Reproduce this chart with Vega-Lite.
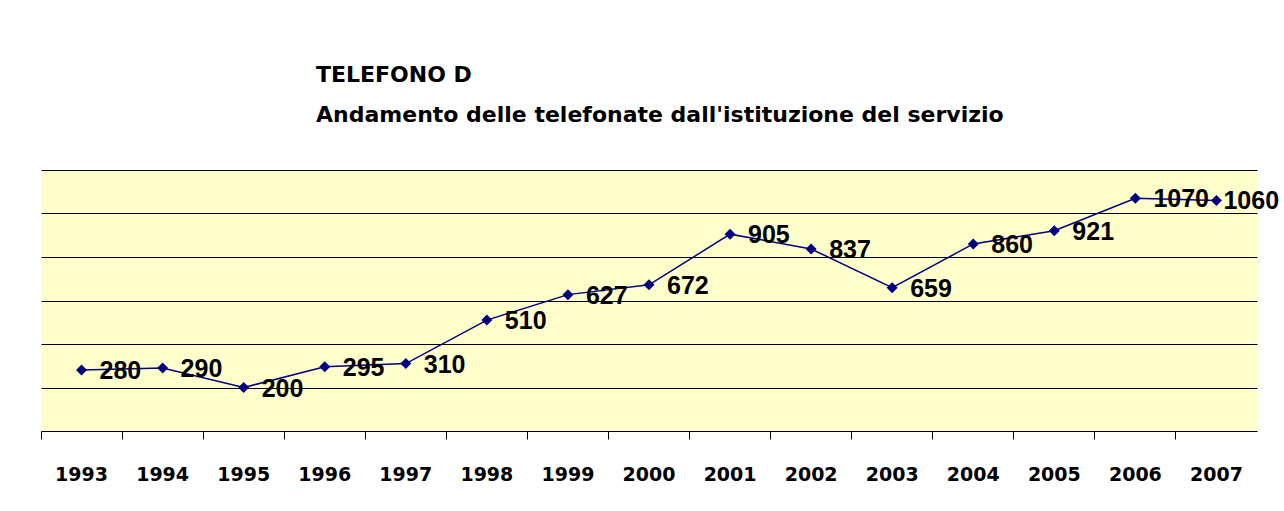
{
  "$schema": "https://vega.github.io/schema/vega-lite/v6.json",
  "width": 1216,
  "height": 261,
  "autosize": {"type": "none"},
  "padding": {"left": 41, "top": 170, "right": 27, "bottom": 80},
  "background": "white",
  "config": {
    "view": {"fill": "#FFFFCC", "stroke": null}
  },
  "title": {
    "text": "TELEFONO D",
    "subtitle": "Andamento delle telefonate dall'istituzione del servizio",
    "anchor": "start",
    "frame": "group",
    "dx": 275,
    "offset": 43,
    "font": "DejaVu Sans",
    "fontSize": 22,
    "fontWeight": "bold",
    "color": "black",
    "subtitleFont": "DejaVu Sans",
    "subtitleFontSize": 22,
    "subtitleFontWeight": "bold",
    "subtitleColor": "black",
    "subtitlePadding": 18
  },
  "data": {
    "values": [
      {"anno": "1993", "telefonate": 280},
      {"anno": "1994", "telefonate": 290},
      {"anno": "1995", "telefonate": 200},
      {"anno": "1996", "telefonate": 295},
      {"anno": "1997", "telefonate": 310},
      {"anno": "1998", "telefonate": 510},
      {"anno": "1999", "telefonate": 627},
      {"anno": "2000", "telefonate": 672},
      {"anno": "2001", "telefonate": 905},
      {"anno": "2002", "telefonate": 837},
      {"anno": "2003", "telefonate": 659},
      {"anno": "2004", "telefonate": 860},
      {"anno": "2005", "telefonate": 921},
      {"anno": "2006", "telefonate": 1070},
      {"anno": "2007", "telefonate": 1060}
    ]
  },
  "encoding": {
    "x": {
      "field": "anno",
      "type": "ordinal",
      "scale": {"type": "band", "paddingInner": 0, "paddingOuter": 0},
      "axis": {
        "title": null,
        "labelAngle": 0,
        "bandPosition": 0,
        "domainColor": "black",
        "domainWidth": 1,
        "tickColor": "black",
        "tickSize": 8,
        "tickWidth": 1,
        "labelFont": "DejaVu Sans",
        "labelFontSize": 19,
        "labelFontWeight": "bold",
        "labelColor": "black",
        "labelPadding": 26,
        "labelAlign": "center",
        "labelFlush": false
      }
    },
    "y": {
      "field": "telefonate",
      "type": "quantitative",
      "scale": {"domain": [0, 1200], "nice": false},
      "axis": {
        "title": null,
        "labels": false,
        "ticks": false,
        "domain": false,
        "grid": true,
        "gridColor": "black",
        "gridOpacity": 1,
        "gridWidth": 1,
        "values": [200, 400, 600, 800, 1000, 1200]
      }
    }
  },
  "layer": [
    {
      "mark": {"type": "line", "color": "#000080", "strokeWidth": 1.5},
      "encoding": {}
    },
    {
      "mark": {"type": "point", "shape": "diamond", "filled": true, "color": "#000080", "size": 121, "opacity": 1},
      "encoding": {}
    },
    {
      "transform": [{"filter": "datum.anno != '2007'"}],
      "mark": {"type": "text", "align": "left", "baseline": "middle", "dx": 18, "dy": 1, "font": "Liberation Sans", "fontSize": 25, "fontWeight": "bold", "color": "black"},
      "encoding": {"text": {"field": "telefonate", "type": "quantitative"}}
    },
    {
      "transform": [{"filter": "datum.anno == '2007'"}],
      "mark": {"type": "text", "align": "left", "baseline": "middle", "dx": 7, "dy": 1, "font": "Liberation Sans", "fontSize": 25, "fontWeight": "bold", "color": "black"},
      "encoding": {"text": {"field": "telefonate", "type": "quantitative"}}
    }
  ]
}
